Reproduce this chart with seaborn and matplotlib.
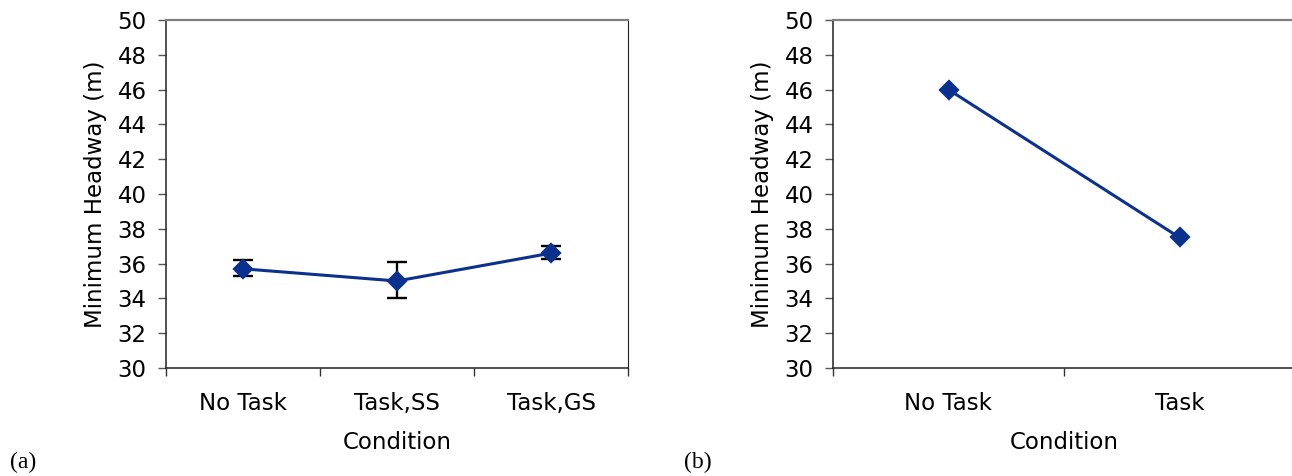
import numpy as np
import pandas as pd
import seaborn as sns
import matplotlib.pyplot as plt

# panel (a): three conditions with error bars
cond_a = ['No Task', 'Task,SS', 'Task,GS']
mean_a = [35.7, 35.0, 36.6]
err_lo_a = [0.4, 1.0, 0.35]     # distance from mean down to lower cap
err_hi_a = [0.5, 1.1, 0.4]      # distance from mean up to upper cap

# panel (b): two conditions, no error bars
cond_b = ['No Task', 'Task']
mean_b = [46.0, 37.5]

y_ticks = list(range(30, 51, 2))
line_color = '#0B318F'
fs = 16.5

sns.set_theme(style='white')
plt.rcParams['font.family'] = ['DejaVu Sans']
plt.rcParams['text.color'] = 'black'
plt.rcParams['axes.labelcolor'] = 'black'
plt.rcParams['xtick.color'] = 'black'
plt.rcParams['ytick.color'] = 'black'

fig = plt.figure(figsize=(12.92, 4.76), dpi=100)
ax_a = fig.add_axes([166 / 1292, 108 / 476, 462 / 1292, 348 / 476])
ax_b = fig.add_axes([833 / 1292, 108 / 476, 462 / 1292, 348 / 476])


def style_axis(ax, cats):
    n = len(cats)
    ax.set_xlim(-0.5, n - 0.5)
    ax.set_ylim(30, 50)
    ax.set_yticks(y_ticks)
    ax.set_yticklabels([str(t) for t in y_ticks], fontsize=fs)
    # ticks between categories, labels centred on categories
    ax.set_xticks(np.arange(n + 1) - 0.5)
    ax.set_xticklabels([''] * (n + 1))
    ax.set_xticks(np.arange(n), minor=True)
    ax.set_xticklabels(cats, minor=True, fontsize=fs)
    ax.tick_params(axis='x', which='major', direction='out', length=6, width=1, color='#333333', bottom=True)
    ax.tick_params(axis='x', which='minor', length=0, pad=17, bottom=True)
    ax.tick_params(axis='y', direction='out', length=6, width=1, color='#555555', pad=8, left=True)
    ax.set_xlabel('Condition', fontsize=fs, labelpad=12)
    ax.set_ylabel('Minimum Headway (m)', fontsize=fs, labelpad=7.5)
    for side in ['left', 'bottom']:
        ax.spines[side].set_color('#222222')
        ax.spines[side].set_linewidth(1.1)
    ax.spines['top'].set_color('#808080')
    ax.spines['top'].set_linewidth(1.6)
    ax.spines['right'].set_color('#222222')
    ax.spines['right'].set_linewidth(0.8)
    ax.grid(False)


df_a = pd.DataFrame({'Condition': cond_a, 'Headway': mean_a})
sns.pointplot(data=df_a, x='Condition', y='Headway', ax=ax_a, color=line_color,
              markers='D', markersize=9, linewidth=2.2, errorbar=None, zorder=3)
ax_a.errorbar(np.arange(len(cond_a)), mean_a, yerr=[err_lo_a, err_hi_a], fmt='none',
              ecolor='black', elinewidth=1.7, capsize=7, capthick=1.7, zorder=2)
style_axis(ax_a, cond_a)

df_b = pd.DataFrame({'Condition': cond_b, 'Headway': mean_b})
sns.pointplot(data=df_b, x='Condition', y='Headway', ax=ax_b, color=line_color,
              markers='D', markersize=9, linewidth=2.2, errorbar=None, zorder=3)
style_axis(ax_b, cond_b)

fig.text(10 / 1292, 1 - 462 / 476, '(a)', fontsize=17, family='Liberation Serif', va='center')
fig.text(684 / 1292, 1 - 462 / 476, '(b)', fontsize=17, family='Liberation Serif', va='center')

fig.savefig('out.png', dpi=100)
